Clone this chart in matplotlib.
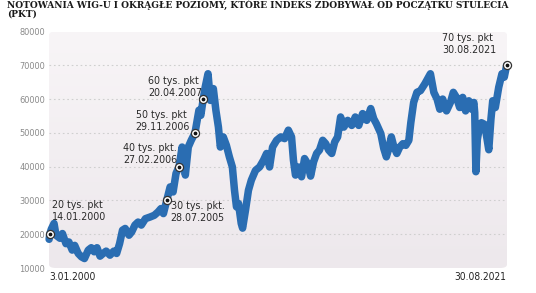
import matplotlib
matplotlib.use("Agg")
import matplotlib.pyplot as plt
from matplotlib import font_manager
import numpy as np
import pandas as pd
from matplotlib.patches import FancyBboxPatch

# WIG quotes (approx.)
dates = [
    "2000-01-03", "2000-01-14", "2000-02-10", "2000-03-28", "2000-05-01", "2000-07-08",
    "2000-08-20", "2000-10-20", "2000-12-10", "2001-02-05", "2001-03-20", "2001-05-20",
    "2001-07-15", "2001-09-05", "2001-11-10", "2002-01-01", "2002-02-20", "2002-04-10",
    "2002-06-01", "2002-07-25", "2002-09-15", "2002-11-20", "2003-01-25", "2003-03-15",
    "2003-05-05", "2003-06-25", "2003-08-10", "2003-10-15", "2003-12-01", "2004-01-25",
    "2004-03-20", "2004-05-15", "2004-07-25", "2004-10-15", "2004-12-25", "2005-03-01",
    "2005-04-20", "2005-06-01", "2005-07-28", "2005-09-25", "2005-11-15", "2006-01-05",
    "2006-02-27", "2006-04-20", "2006-06-15", "2006-08-05", "2006-09-25", "2006-11-29",
    "2007-02-05", "2007-03-10", "2007-04-20", "2007-05-25", "2007-07-12", "2007-08-22",
    "2007-10-12", "2007-11-25", "2008-01-08", "2008-02-10", "2008-04-01", "2008-05-25",
    "2008-07-15", "2008-09-05", "2008-10-12", "2008-11-15", "2008-12-20", "2009-02-05",
    "2009-03-01", "2009-04-20", "2009-06-10", "2009-07-30", "2009-10-10", "2009-12-20",
    "2010-02-25", "2010-04-20", "2010-06-10", "2010-08-01", "2010-10-10", "2010-12-20",
    "2011-02-25", "2011-05-01", "2011-06-25", "2011-07-28", "2011-09-01", "2011-10-22",
    "2011-12-15", "2012-02-05", "2012-03-28", "2012-05-20", "2012-07-10", "2012-09-01",
    "2012-10-20", "2012-12-15", "2013-02-05", "2013-03-28", "2013-05-20", "2013-07-10",
    "2013-08-30", "2013-10-20", "2013-12-15", "2014-02-20", "2014-05-01", "2014-07-01",
    "2014-08-30", "2014-11-05", "2015-01-15", "2015-03-25", "2015-05-15", "2015-07-01",
    "2015-09-15", "2015-11-05", "2015-12-20", "2016-02-01", "2016-03-15", "2016-04-28",
    "2016-06-18", "2016-08-08", "2016-10-01", "2016-11-20", "2017-01-12", "2017-02-15",
    "2017-04-05", "2017-06-01", "2017-08-01", "2017-10-15", "2018-01-20", "2018-03-20",
    "2018-05-15", "2018-07-01", "2018-08-20", "2018-10-25", "2019-01-01", "2019-02-20",
    "2019-04-15", "2019-06-10", "2019-08-01", "2019-09-20", "2019-11-15", "2020-01-01",
    "2020-02-10", "2020-02-25", "2020-03-16", "2020-04-10", "2020-05-10", "2020-06-20",
    "2020-08-15", "2020-10-25", "2020-12-01", "2021-01-01", "2021-02-15", "2021-04-15",
    "2021-06-10", "2021-07-20", "2021-08-30",
]
wig = [
    18500, 20000, 21500, 23200, 19700, 18800,
    20200, 17200, 17700, 15300, 16700, 14300,
    13300, 12800, 15300, 16000, 14800, 16000,
    13500, 14300, 15000, 13800, 15000, 14300,
    17200, 21200, 21700, 19700, 20700, 22700,
    23600, 22700, 24600, 25100, 25600, 26600,
    27600, 26100, 30000, 34000, 32500, 38000,
    40000, 45800, 37500, 45800, 47800, 50000,
    56700, 55200, 60000, 63600, 67500, 59600,
    63100, 56700, 51700, 45800, 48800, 46300,
    42900, 39900, 33000, 28100, 29100, 23200,
    21800, 27100, 33000, 36000, 38900, 39900,
    41900, 43900, 39900, 45800, 47800, 48800,
    48300, 50800, 48800, 41900, 37500, 39900,
    37000, 42400, 40900, 37200, 41400, 43900,
    44900, 47800, 46800, 44900, 43900, 47300,
    48800, 54700, 51700, 53700, 52200, 54700,
    52200, 55700, 53700, 57200, 54200, 52700,
    49800, 45400, 42900, 45400, 48800, 45900,
    43900, 45800, 46800, 46300, 47800, 53000,
    59000, 62000, 62500, 64500, 67500, 62000,
    60000, 57000, 60000, 56500, 59000, 62000,
    60500, 57500, 60500, 56500, 59500, 57000,
    59000, 56000, 38500, 48000, 51000, 53000,
    52500, 45000, 54000, 59500, 57500, 63500,
    67500, 66500, 70000,
]

# round levels the index reached
mark_dates = ["2000-01-14", "2005-07-28", "2006-02-27", "2006-11-29", "2007-04-20", "2021-08-30"]
mark_values = [20000, 30000, 40000, 50000, 60000, 70000]
mark_labels = [
    "20 tys. pkt\n14.01.2000",
    "30 tys. pkt.\n28.07.2005",
    "40 tys. pkt.\n27.02.2006",
    "50 tys. pkt\n29.11.2006",
    "60 tys. pkt\n20.04.2007",
    "70 tys. pkt\n30.08.2021",
]
# (dx, dy in pixels, ha, va)
mark_offsets = [
    (2, 12, "left", "bottom"),
    (4, -1, "left", "top"),
    (-2, 2, "right", "bottom"),
    (-5, 1, "right", "bottom"),
    (-1, 1, "right", "bottom"),
    (-10, 10, "right", "bottom"),
]

y_ticks = [10000, 20000, 30000, 40000, 50000, 60000, 70000, 80000]
title1 = "NOTOWANIA WIG-U I OKRĄGŁE POZIOMY, KTÓRE INDEKS ZDOBYWAŁ OD POCZĄTKU STULECIA"
title2 = "(PKT)"

# prefer an upright condensed sans if one is installed, otherwise Roboto
condensed = [f for f in font_manager.fontManager.ttflist
             if ("condensed" in str(f.stretch) or "Narrow" in f.name)
             and f.style == "normal" and f.weight in (400, "normal", "regular")]
if condensed:
    LAB = dict(fontproperties=font_manager.FontProperties(fname=condensed[0].fname))
    s_ann, s_tick, s_date = 7.7, 6.6, 7.3
else:
    LAB = dict(family="Roboto")
    s_ann, s_tick, s_date = 6.9, 5.9, 6.5

LINE = "#2a6db2"

x = pd.to_datetime(dates)
mx = pd.to_datetime(mark_dates)

W, H = 536, 293
fig = plt.figure(figsize=(W / 100, H / 100), dpi=100, facecolor="white")
ax = fig.add_axes([49 / W, (H - 268) / H, 458 / W, 236.5 / H])
ax.set_xlim(pd.Timestamp("2000-01-01"), pd.Timestamp("2021-09-05"))
ax.set_ylim(10000, 80000)
ax.patch.set_visible(False)
for s in ax.spines.values():
    s.set_visible(False)

# rounded, softly shaded panel
panel = FancyBboxPatch((0, 0), 1, 1, boxstyle="round,pad=0,rounding_size=0.015",
                       transform=ax.transAxes, facecolor="none", edgecolor="none", zorder=0)
ax.add_patch(panel)
grad = np.linspace(0, 1, 256).reshape(-1, 1)
img = ax.imshow(grad, cmap=matplotlib.colors.LinearSegmentedColormap.from_list(
    "bg", ["#ede8ec", "#f8f5f7"]), origin="lower", extent=(0, 1, 0, 1),
    transform=ax.transAxes, aspect="auto", zorder=0)
img.set_clip_path(panel)

ax.set_yticks(y_ticks)
ax.set_yticklabels([str(v) for v in y_ticks], color="#8a8a8a", **LAB)
for t in ax.get_yticklabels():
    t.set_fontsize(s_tick)
ax.tick_params(axis="y", length=0, pad=3)
ax.set_xticks([])
for v in y_ticks[1:-1]:
    ax.axhline(v, color="#cfcfcf", lw=0.8, ls=(0, (1.5, 2.5)), zorder=1)

ax.plot(x, wig, color=LINE, lw=5.4, solid_joinstyle="round", solid_capstyle="round",
        zorder=3, clip_on=False)

ax.scatter(mx, mark_values, s=34, facecolor="white", edgecolor="#333333", linewidth=0.9,
           zorder=5, clip_on=False)
ax.scatter(mx, mark_values, s=3, color="#111111", zorder=6, clip_on=False)

for d, v, lab, (dx, dy, ha, va) in zip(mx, mark_values, mark_labels, mark_offsets):
    t = ax.annotate(lab, xy=(d, v), xytext=(dx, dy), textcoords="offset pixels",
                    ha=ha, va=va, multialignment="left", color="#2a2a2a",
                    linespacing=1.25, zorder=7, annotation_clip=False, **LAB)
    t.set_fontsize(s_ann)

t = fig.text(49 / W, 1 - 277.5 / H, "3.01.2000", ha="left", va="center",
             color="#222222", **LAB)
t.set_fontsize(s_date)
t = fig.text(506 / W, 1 - 277.5 / H, "30.08.2021", ha="right", va="center",
             color="#222222", **LAB)
t.set_fontsize(s_date)

fig.text(7 / W, 1 - 7.5 / H, title1, ha="left", va="baseline", family="DejaVu Serif",
         weight="bold", fontsize=6.45, color="#1a1a1a")
fig.text(7 / W, 1 - 17 / H, title2, ha="left", va="baseline", family="DejaVu Serif",
         weight="bold", fontsize=6.45, color="#1a1a1a")

fig.savefig("out.png", dpi=100, facecolor="white")
